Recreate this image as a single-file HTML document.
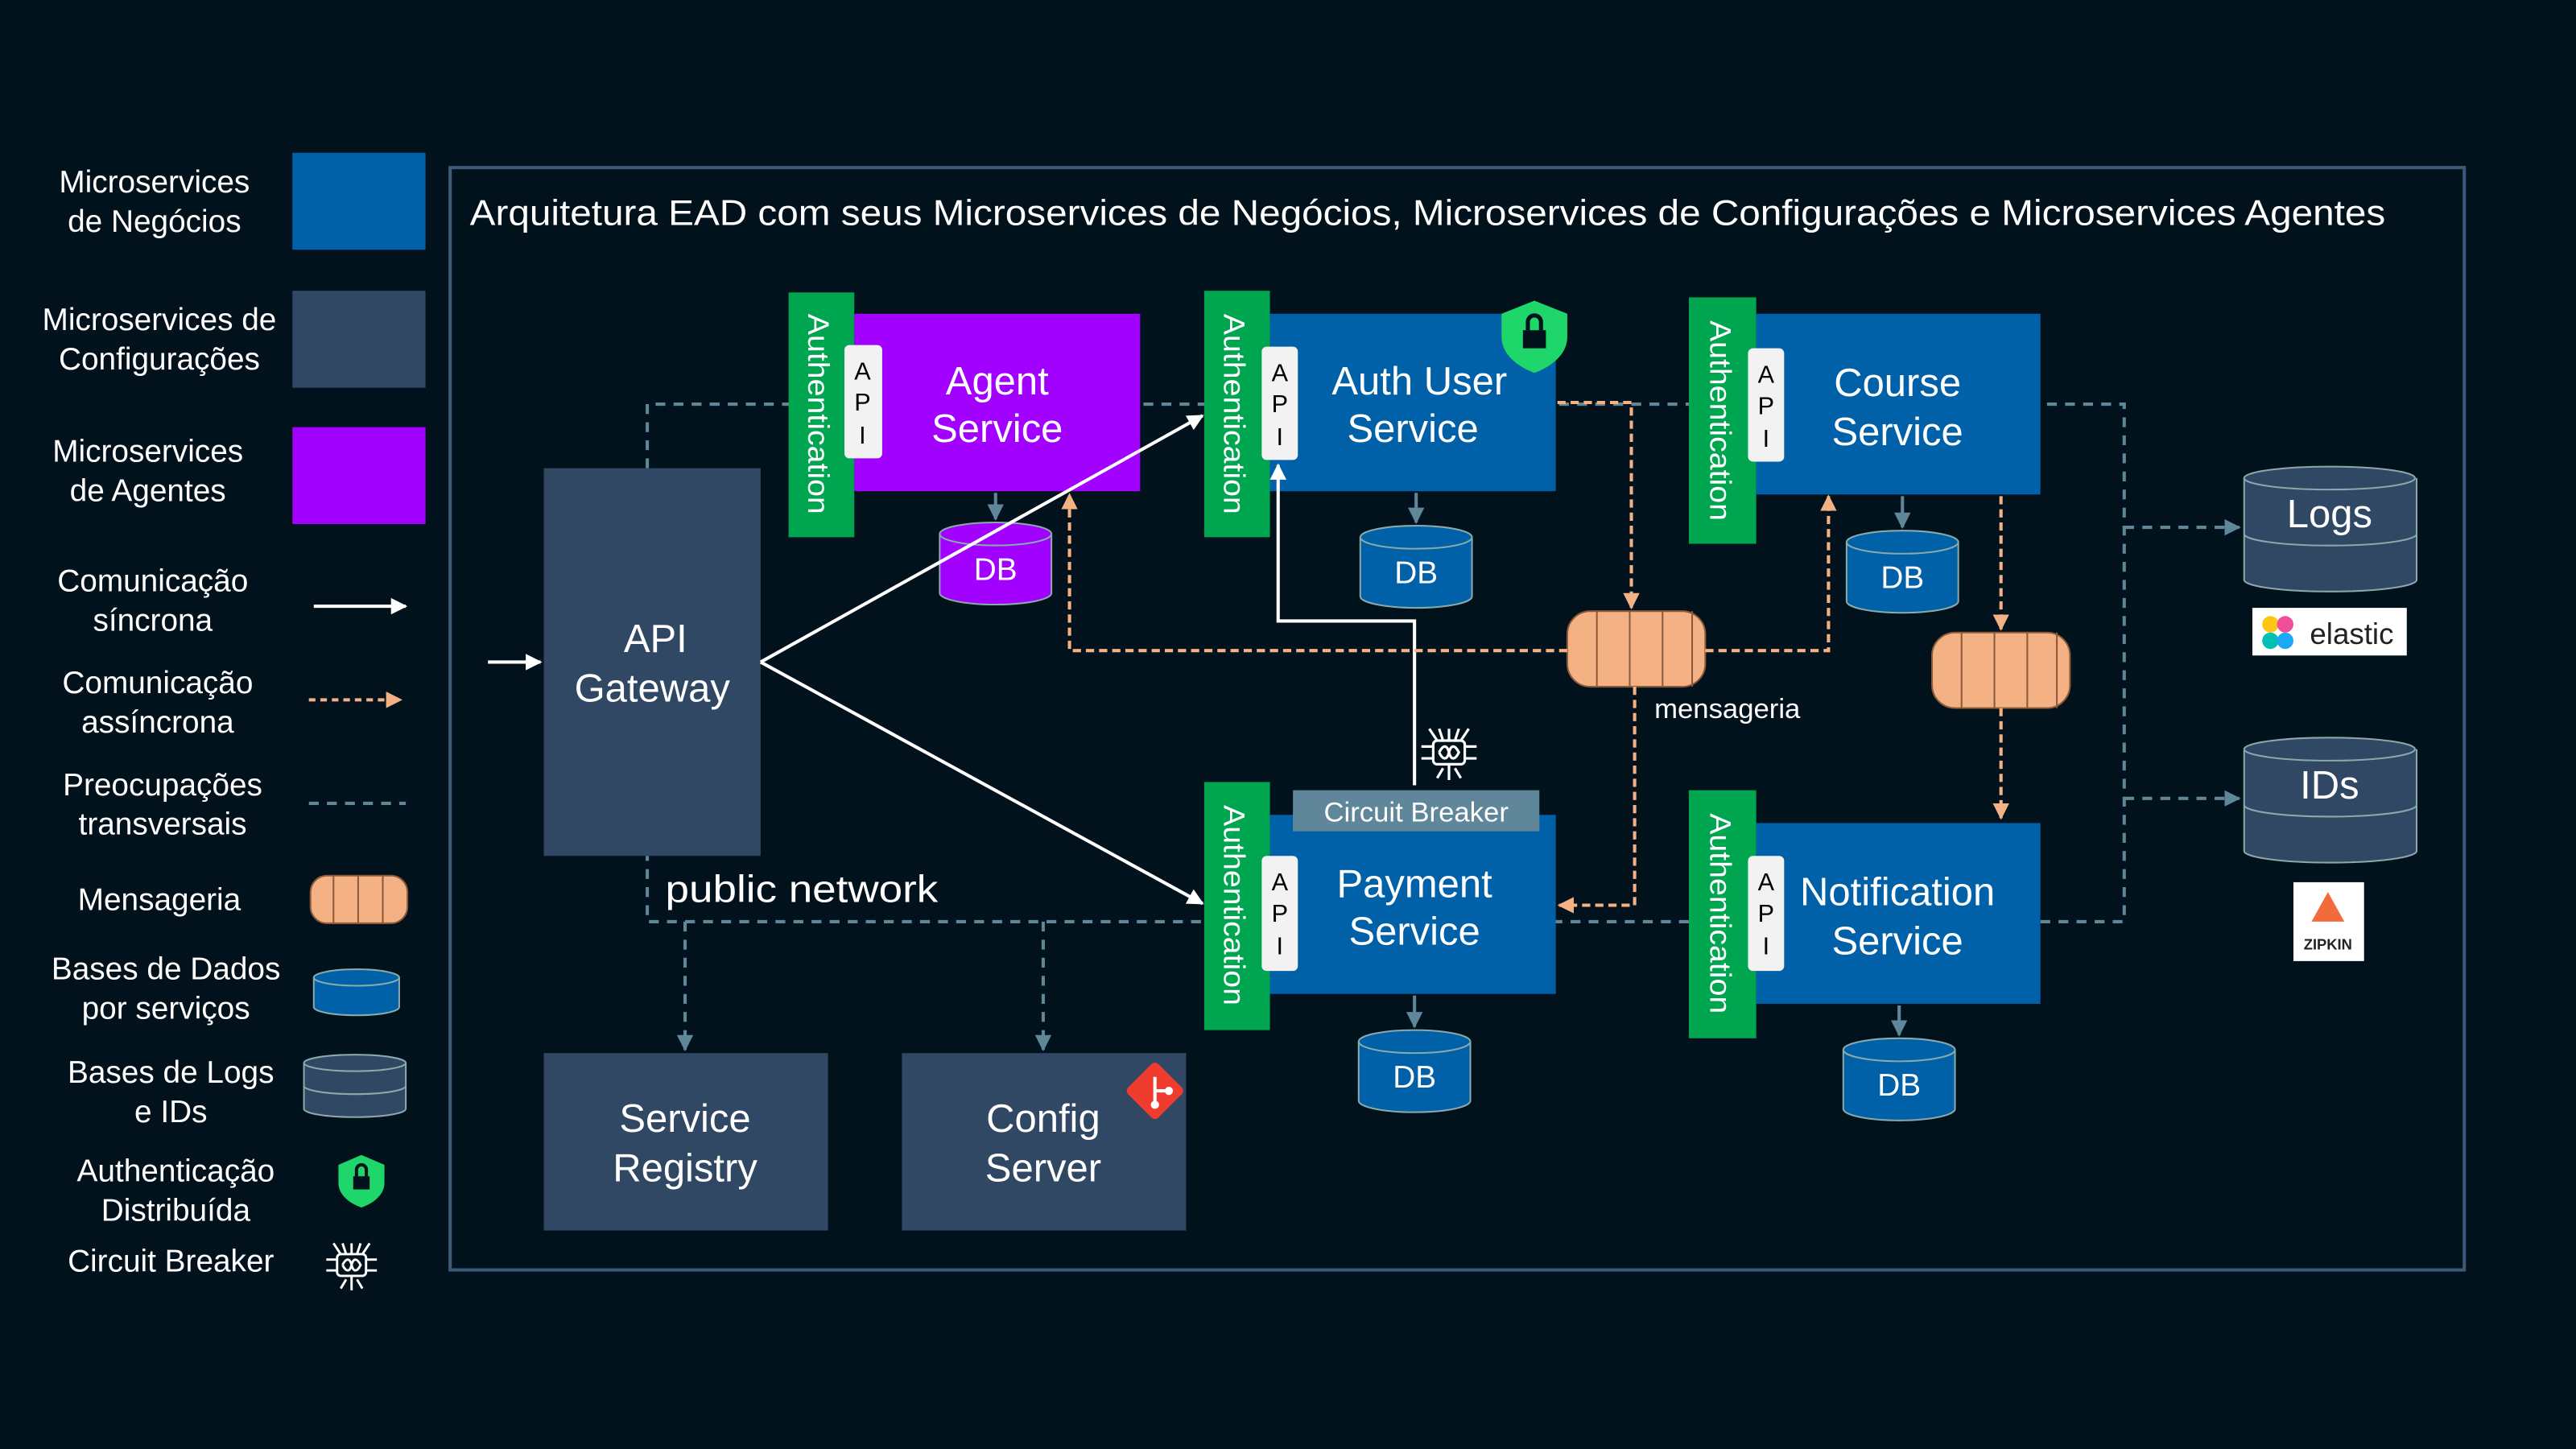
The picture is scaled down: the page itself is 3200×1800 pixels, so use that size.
<!DOCTYPE html>
<html><head><meta charset="utf-8"><style>
html,body{margin:0;padding:0;background:#02121c;}
svg{display:block;font-family:"Liberation Sans",sans-serif;}
</style></head><body>
<svg width="3200" height="1800" viewBox="0 0 1568 882" xmlns="http://www.w3.org/2000/svg">
<defs>
<marker id="aw" markerWidth="10" markerHeight="10" refX="9" refY="5" orient="auto" markerUnits="userSpaceOnUse"><path d="M0,0 L10,5 L0,10 z" fill="#fff"/></marker>
<marker id="ao" markerWidth="10" markerHeight="10" refX="9" refY="5" orient="auto" markerUnits="userSpaceOnUse"><path d="M0,0 L10,5 L0,10 z" fill="#f4b183"/></marker>
<marker id="as" markerWidth="10" markerHeight="10" refX="9" refY="5" orient="auto" markerUnits="userSpaceOnUse"><path d="M0,0 L10,5 L0,10 z" fill="#5f8799"/></marker>
<g id="cb" fill="none" stroke="#fff" stroke-width="1.3">
<rect x="-8" y="-6" width="16" height="12" rx="2"/><path d="M-5,0 c2,-4 4,-4 5,0 c1,4 3,4 5,0 c-2,-4 -4,-4 -5,0 c-1,4 -3,4 -5,0"/>
<path d="M-8,-3 h-6 M-8,3 h-6 M8,-3 h6 M8,3 h6 M-6,-6 l-4,-6 M-3,-6 l-2,-6 M0,-6 v-6 M3,-6 l2,-6 M6,-6 l4,-6 M0,6 v8 M-3,8 l-3,5 M3,8 l3,5"/>
</g>
</defs>
<rect width="1568" height="882" fill="#02121c"/>
<!-- legend -->
<g fill="#fff" font-size="19" text-anchor="middle">
<text x="94" y="117">Microservices</text><text x="94" y="141">de Negócios</text>
<text x="97" y="201">Microservices de</text><text x="97" y="225">Configurações</text>
<text x="90" y="281">Microservices</text><text x="90" y="305">de Agentes</text>
<text x="93" y="360">Comunicação</text><text x="93" y="384">síncrona</text>
<text x="96" y="422">Comunicação</text><text x="96" y="446">assíncrona</text>
<text x="99" y="484">Preocupações</text><text x="99" y="508">transversais</text>
<text x="97" y="554">Mensageria</text>
<text x="101" y="596">Bases de Dados</text><text x="101" y="620">por serviços</text>
<text x="104" y="659">Bases de Logs</text><text x="104" y="683">e IDs</text>
<text x="107" y="719">Authenticação</text><text x="107" y="743">Distribuída</text>
<text x="104" y="774">Circuit Breaker</text>
</g>
<rect x="178" y="93" width="81" height="59" fill="#0060a8"/>
<rect x="178" y="177" width="81" height="59" fill="#304863"/>
<rect x="178" y="260" width="81" height="59" fill="#a200ff"/>
<line x1="191" y1="369" x2="247" y2="369" stroke="#fff" stroke-width="2" marker-end="url(#aw)"/>
<line x1="188" y1="426" x2="244" y2="426" stroke="#f4b183" stroke-width="2" stroke-dasharray="4,3" marker-end="url(#ao)"/>
<line x1="188" y1="489" x2="247" y2="489" stroke="#5f8799" stroke-width="2" stroke-dasharray="6,5"/>
<g stroke="#8a5a3a" stroke-width="1"><rect x="189" y="533" width="59" height="29" rx="10" fill="#f4b183"/><path d="M203,533v29M218,533v29M233,533v29" fill="none"/></g>
<g stroke="#8aa" stroke-width="1" fill="#0060a8"><path d="M191,595v18a26,5 0 0 0 52,0v-18"/><ellipse cx="217" cy="595" rx="26" ry="5"/></g>
<g stroke="#8aa" stroke-width="1" fill="#304863"><path d="M185,647v28a31,5 0 0 0 62,0v-28"/><path d="M185,661a31,5 0 0 0 62,0" fill="none"/><ellipse cx="216" cy="647" rx="31" ry="5"/></g>
<g transform="translate(220,718)"><path d="M0,-15 L14,-9 V2 C14,10 6,15 0,17 C-6,15 -14,10 -14,2 V-9 z" fill="#1fd66b"/><rect x="-5" y="-2" width="10" height="8" fill="#02121c"/><path d="M-3,-2v-4a3,3 0 0 1 6,0v4" fill="none" stroke="#02121c" stroke-width="2"/></g>
<use href="#cb" transform="translate(214,770) scale(1.1)"/>

<!-- frame -->
<rect x="274" y="102" width="1226" height="671" fill="none" stroke="#3c5a78" stroke-width="2"/>
<text x="286" y="137" fill="#fff" font-size="22" textLength="1166" lengthAdjust="spacingAndGlyphs">Arquitetura EAD com seus Microservices de Negócios, Microservices de Configurações e Microservices Agentes</text>

<!-- dashed network -->
<g stroke="#5f8799" stroke-width="2" stroke-dasharray="6,5" fill="none">
<path d="M394,285V246H1293V561H394V521"/>
<path d="M1293,321H1363" marker-end="url(#as)"/><path d="M1293,486H1363" marker-end="url(#as)"/>
<path d="M417,561V639" marker-end="url(#as)"/><path d="M635,561V639" marker-end="url(#as)"/>
</g>

<!-- gateway -->
<rect x="331" y="285" width="132" height="236" fill="#304863"/>
<g fill="#fff" font-size="24" text-anchor="middle"><text x="399" y="397">API</text><text x="397" y="427">Gateway</text></g>
<text x="405" y="549" fill="#fff" font-size="23" textLength="166" lengthAdjust="spacingAndGlyphs">public network</text>
<rect x="331" y="641" width="173" height="108" fill="#304863"/>
<g fill="#fff" font-size="24" text-anchor="middle"><text x="417" y="689">Service</text><text x="417" y="719">Registry</text>
<rect x="549" y="641" width="173" height="108" fill="#304863"/><text x="635" y="689">Config</text><text x="635" y="719">Server</text></g>
<g transform="translate(703,664) rotate(45)"><rect x="-13" y="-13" width="26" height="26" rx="3" fill="#f03c2e"/><path d="M-6,-6 L6,6 M0,0 L6,-6" stroke="#fff" stroke-width="2"/><circle cx="6" cy="6" r="2.5" fill="#fff"/><circle cx="6" cy="-6" r="2.5" fill="#fff"/></g>

<!-- services -->
<g font-size="24" text-anchor="middle">
<rect x="480" y="178" width="40" height="149" fill="#00a550"/><rect x="520" y="191" width="174" height="108" fill="#a200ff"/>
<text fill="#fff" x="607" y="240">Agent</text><text fill="#fff" x="607" y="269">Service</text>
<rect x="733" y="177" width="40" height="150" fill="#00a550"/><rect x="773" y="191" width="174" height="108" fill="#0060a8"/>
<text fill="#fff" x="864" y="240">Auth User</text><text fill="#fff" x="860" y="269">Service</text>
<rect x="1028" y="181" width="41" height="150" fill="#00a550"/><rect x="1069" y="191" width="173" height="110" fill="#0060a8"/>
<text fill="#fff" x="1155" y="241">Course</text><text fill="#fff" x="1155" y="271">Service</text>
<rect x="733" y="476" width="40" height="151" fill="#00a550"/><rect x="773" y="496" width="174" height="109" fill="#0060a8"/>
<text fill="#fff" x="861" y="546">Payment</text><text fill="#fff" x="861" y="575">Service</text>
<rect x="1028" y="481" width="41" height="151" fill="#00a550"/><rect x="1069" y="501" width="173" height="110" fill="#0060a8"/>
<text fill="#fff" x="1155" y="551">Notification</text><text fill="#fff" x="1155" y="581">Service</text>
</g>
<g fill="#fff" font-size="18">
<text transform="translate(492,252) rotate(90)" text-anchor="middle" textLength="122" lengthAdjust="spacingAndGlyphs">Authentication</text>
<text transform="translate(745,252) rotate(90)" text-anchor="middle" textLength="122" lengthAdjust="spacingAndGlyphs">Authentication</text>
<text transform="translate(1041,256) rotate(90)" text-anchor="middle" textLength="122" lengthAdjust="spacingAndGlyphs">Authentication</text>
<text transform="translate(745,551) rotate(90)" text-anchor="middle" textLength="122" lengthAdjust="spacingAndGlyphs">Authentication</text>
<text transform="translate(1041,556) rotate(90)" text-anchor="middle" textLength="122" lengthAdjust="spacingAndGlyphs">Authentication</text>
</g>
<g fill="#f2f2f2"><rect x="514" y="210" width="23" height="69" rx="3"/><rect x="768" y="211" width="22" height="69" rx="3"/><rect x="1064" y="212" width="22" height="69" rx="3"/><rect x="768" y="521" width="22" height="70" rx="3"/><rect x="1064" y="521" width="22" height="70" rx="3"/></g>
<g fill="#000" font-size="15" text-anchor="middle">
<text x="525" y="231">A</text><text x="525" y="250">P</text><text x="525" y="270">I</text>
<text x="779" y="232">A</text><text x="779" y="251">P</text><text x="779" y="271">I</text>
<text x="1075" y="233">A</text><text x="1075" y="252">P</text><text x="1075" y="272">I</text>
<text x="779" y="542">A</text><text x="779" y="561">P</text><text x="779" y="581">I</text>
<text x="1075" y="542">A</text><text x="1075" y="561">P</text><text x="1075" y="581">I</text>
</g>
<rect x="787" y="481" width="150" height="25" fill="#5f8799"/>
<text x="862" y="500" fill="#fff" font-size="17" text-anchor="middle">Circuit Breaker</text>
<use href="#cb" transform="translate(882,458) scale(1.2)"/>
<g transform="translate(934,203)"><path d="M0,-20 L20,-12 V2 C20,14 8,21 0,24 C-8,21 -20,14 -20,2 V-12 z" fill="#1fd66b"/><rect x="-7" y="-2" width="14" height="11" fill="#02121c"/><path d="M-4,-2v-5a4,4 0 0 1 8,0v5" fill="none" stroke="#02121c" stroke-width="2.5"/></g>

<!-- DBs -->
<g stroke="#8aa" stroke-width="1">
<g fill="#a200ff"><path d="M572,325v36a34,7 0 0 0 68,0v-36"/><ellipse cx="606" cy="325" rx="34" ry="7"/></g>
<g fill="#0060a8"><path d="M828,327v36a34,7 0 0 0 68,0v-36"/><ellipse cx="862" cy="327" rx="34" ry="7"/></g>
<g fill="#0060a8"><path d="M1124,330v36a34,7 0 0 0 68,0v-36"/><ellipse cx="1158" cy="330" rx="34" ry="7"/></g>
<g fill="#0060a8"><path d="M827,634v36a34,7 0 0 0 68,0v-36"/><ellipse cx="861" cy="634" rx="34" ry="7"/></g>
<g fill="#0060a8"><path d="M1122,639v36a34,7 0 0 0 68,0v-36"/><ellipse cx="1156" cy="639" rx="34" ry="7"/></g>
</g>
<g fill="#fff" font-size="19" text-anchor="middle"><text x="606" y="353">DB</text><text x="862" y="355">DB</text><text x="1158" y="358">DB</text><text x="861" y="662">DB</text><text x="1156" y="667">DB</text></g>
<g stroke="#5f8799" stroke-width="2">
<line x1="606" y1="300" x2="606" y2="316" marker-end="url(#as)"/><line x1="862" y1="300" x2="862" y2="318" marker-end="url(#as)"/>
<line x1="1158" y1="302" x2="1158" y2="321" marker-end="url(#as)"/><line x1="861" y1="606" x2="861" y2="625" marker-end="url(#as)"/>
<line x1="1156" y1="612" x2="1156" y2="630" marker-end="url(#as)"/></g>

<!-- logs / ids -->
<g stroke="#8aa" stroke-width="1" fill="#304863">
<path d="M1366,291v62a52,7 0 0 0 105,0v-62"/><path d="M1366,325a52,7 0 0 0 105,0" fill="none"/><ellipse cx="1418" cy="291" rx="52" ry="7"/>
<path d="M1366,456v62a52,7 0 0 0 105,0v-62"/><path d="M1366,490a52,7 0 0 0 105,0" fill="none"/><ellipse cx="1418" cy="456" rx="52" ry="7"/>
</g>
<g fill="#fff" font-size="24" text-anchor="middle"><text x="1418" y="321">Logs</text><text x="1418" y="486">IDs</text></g>
<rect x="1371" y="370" width="94" height="29" fill="#fff"/>
<circle cx="1382" cy="380" r="5" fill="#fec514"/><circle cx="1391" cy="380" r="5" fill="#f04e98"/><circle cx="1382" cy="390" r="5" fill="#00bfb3"/><circle cx="1391" cy="390" r="5" fill="#1ba9f5"/>
<text x="1406" y="392" fill="#222" font-size="18">elastic</text>
<rect x="1396" y="537" width="43" height="48" fill="#fff"/>
<path d="M1417,543 L1427,561 H1407 z" fill="#f26b3a"/>
<text x="1417" y="578" fill="#222" font-size="9" text-anchor="middle" font-weight="bold">ZIPKIN</text>

<!-- queues -->
<g stroke="#8a5a3a" stroke-width="1" fill="#f4b183">
<rect x="954" y="372" width="84" height="46" rx="14"/><path d="M972,372v46M992,372v46M1012,372v46M1030,372v46" fill="none"/>
<rect x="1176" y="385" width="84" height="46" rx="14"/><path d="M1194,385v46M1214,385v46M1234,385v46M1252,385v46" fill="none"/>
</g>
<text x="1007" y="437" fill="#fff" font-size="17">mensageria</text>

<!-- sync arrows -->
<g stroke="#fff" stroke-width="2" fill="none">
<line x1="297" y1="403" x2="329" y2="403" marker-end="url(#aw)"/>
<line x1="463" y1="403" x2="732" y2="253" marker-end="url(#aw)"/>
<line x1="463" y1="403" x2="732" y2="550" marker-end="url(#aw)"/>
<path d="M861,478V378H778V283" marker-end="url(#aw)"/>
</g>
<!-- async -->
<g stroke="#f4b183" stroke-width="2" stroke-dasharray="5,3" fill="none">
<path d="M948,245H993V370" marker-end="url(#ao)"/>
<path d="M954,396H651V301" marker-end="url(#ao)"/>
<path d="M1038,396H1113V302" marker-end="url(#ao)"/>
<path d="M995,418V551H949" marker-end="url(#ao)"/>
<path d="M1218,302V383" marker-end="url(#ao)"/>
<path d="M1218,431V498" marker-end="url(#ao)"/>
</g>
</svg>
</body></html>
